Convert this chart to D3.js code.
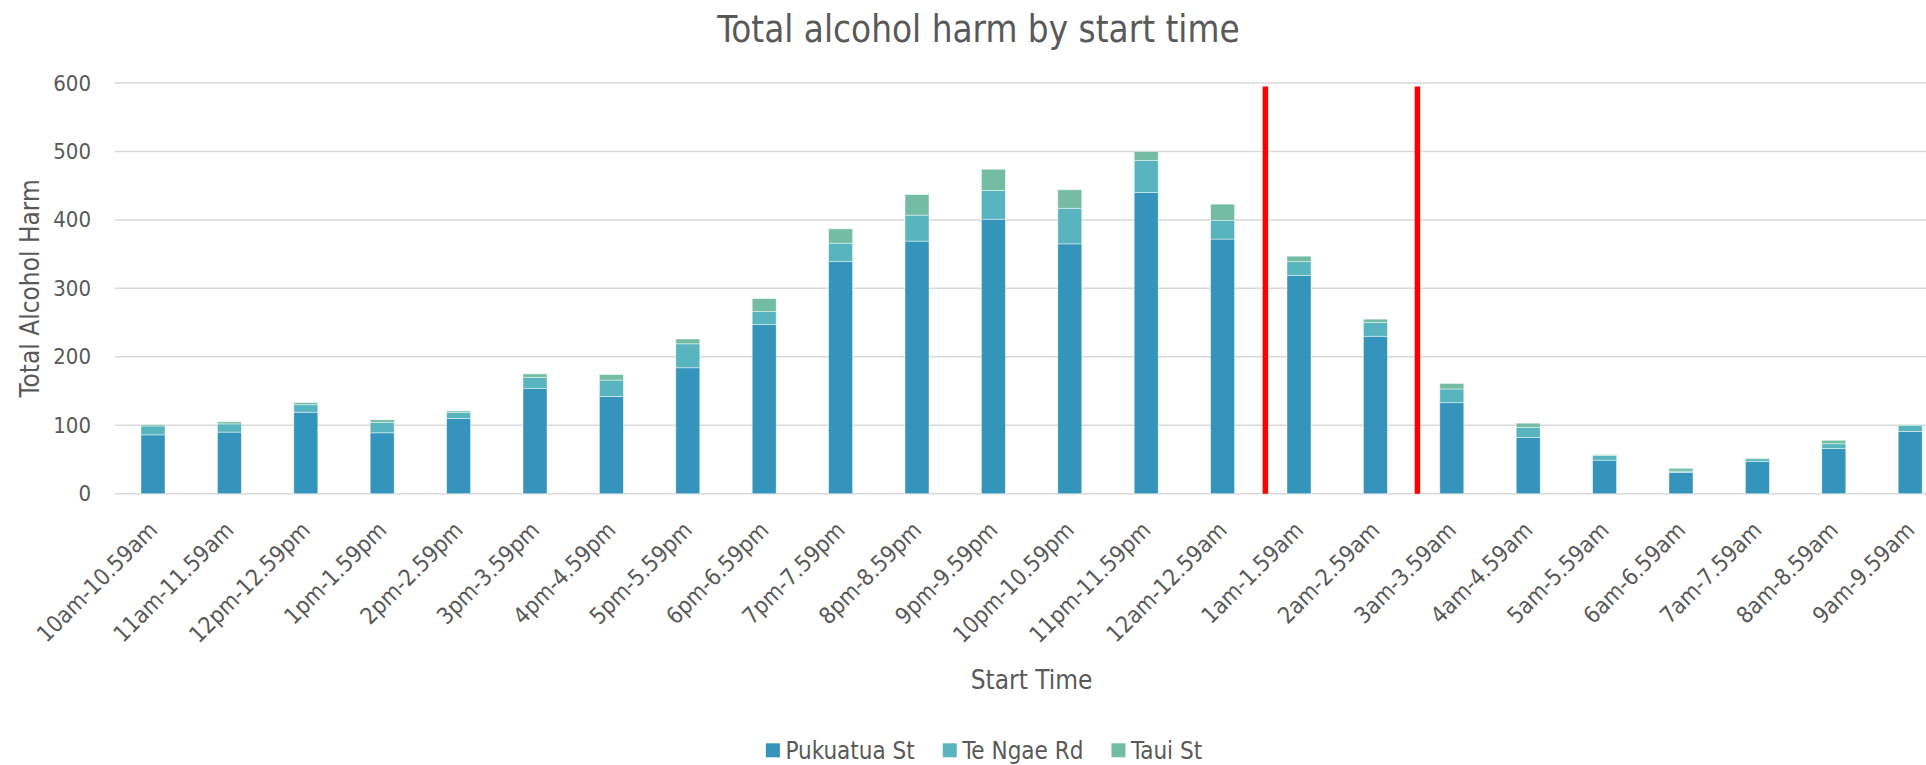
<!DOCTYPE html>
<html>
<head>
<meta charset="utf-8">
<script src="https://cdn.jsdelivr.net/npm/d3@7"></script>
<style>
  html, body { margin: 0; padding: 0; background: #ffffff; }
  svg { display: block; }
  text { font-family: "DejaVu Sans Condensed", "DejaVu Sans", sans-serif; font-stretch: condensed; fill: #595959; }
</style>
</head>
<body>
<svg id="chart" width="1926" height="765"></svg>
<script>
// Hourly start-time bands
const categories = [
  "10am-10.59am", "11am-11.59am", "12pm-12.59pm", "1pm-1.59pm", "2pm-2.59pm",
  "3pm-3.59pm", "4pm-4.59pm", "5pm-5.59pm", "6pm-6.59pm", "7pm-7.59pm",
  "8pm-8.59pm", "9pm-9.59pm", "10pm-10.59pm", "11pm-11.59pm", "12am-12.59am",
  "1am-1.59am", "2am-2.59am", "3am-3.59am", "4am-4.59am", "5am-5.59am",
  "6am-6.59am", "7am-7.59am", "8am-8.59am", "9am-9.59am"
];

// Harm counts per street
const pukuatuaSt = [86, 90, 119, 89, 110, 154, 142, 184, 247, 339, 369, 401, 365, 440, 372, 319, 230, 133, 82, 49, 31, 47, 66, 91];
const teNgaeRd   = [13, 12, 11, 15, 9, 16, 24, 35, 19, 27, 38, 42, 52, 47, 27, 20, 20, 20, 15, 7, 2, 4, 7, 9];
const tauiSt     = [2, 3, 3, 4, 2, 5, 8, 7, 19, 21, 30, 31, 27, 13, 24, 8, 5, 8, 6, 1, 4, 1, 5, 1];

const seriesNames = ["Pukuatua St", "Te Ngae Rd", "Taui St"];
const seriesColors = ["#3594bb", "#58b5bf", "#74bda4"];

const yTicks = [0, 100, 200, 300, 400, 500, 600];

// Red divider lines, positioned in category units along the axis, with their top value
const dividerPositions = [15.06, 17.05];
const dividerTop = 595;

const svg = d3.select("#chart");

const plot = { left: 114.8, right: 1948.4, top: 83, bottom: 493.7 };

const x = d3.scaleBand()
  .domain(categories)
  .range([plot.left, plot.right])
  .paddingInner(0.686)
  .paddingOuter(0.343);

const y = d3.scaleLinear()
  .domain([0, 600])
  .range([plot.bottom, plot.top]);

const xUnits = d3.scaleLinear()
  .domain([0, categories.length])
  .range([plot.left, plot.right]);

// Gridlines
svg.append("g")
  .selectAll("line")
  .data(yTicks)
  .join("line")
  .attr("x1", plot.left)
  .attr("x2", plot.right)
  .attr("y1", d => y(d))
  .attr("y2", d => y(d))
  .attr("stroke", "#d9d9d9")
  .attr("stroke-width", 1.5);

// Y axis labels
const yAxis = d3.axisLeft(y).tickValues(yTicks).tickSize(0).tickPadding(0);
svg.append("g")
  .attr("transform", "translate(91,0)")
  .call(yAxis)
  .call(g => g.select(".domain").remove())
  .call(g => g.selectAll("text")
    .attr("font-size", 22)
    .attr("font-family", null)
    .attr("fill", "#595959"));

// Stacked bars
const table = categories.map((c, i) => ({
  category: c,
  "Pukuatua St": pukuatuaSt[i],
  "Te Ngae Rd": teNgaeRd[i],
  "Taui St": tauiSt[i]
}));
const stacked = d3.stack().keys(seriesNames)(table);

svg.append("g")
  .selectAll("g")
  .data(stacked)
  .join("g")
  .attr("fill", (d, i) => seriesColors[i])
  .selectAll("rect")
  .data(d => d)
  .join("rect")
  .attr("x", d => x(d.data.category))
  .attr("width", x.bandwidth())
  .attr("y", d => y(d[1]))
  .attr("height", d => y(d[0]) - y(d[1]))
  .attr("stroke", "#ffffff")
  .attr("stroke-opacity", 0.55)
  .attr("stroke-width", 0.8);

// Red dividers
svg.append("g")
  .selectAll("line")
  .data(dividerPositions)
  .join("line")
  .attr("x1", d => xUnits(d))
  .attr("x2", d => xUnits(d))
  .attr("y1", y(dividerTop))
  .attr("y2", y(0))
  .attr("stroke", "#ff0000")
  .attr("stroke-width", 5.5);

// X axis labels, rotated
const xAxis = d3.axisBottom(x).tickSize(0).tickPadding(0);
svg.append("g")
  .attr("transform", `translate(0,${plot.bottom + 32})`)
  .call(xAxis)
  .call(g => g.select(".domain").remove())
  .call(g => g.selectAll("text")
    .attr("font-size", 23)
    .attr("font-family", null)
    .attr("fill", "#595959")
    .attr("text-anchor", "end")
    .attr("y", 0)
    .attr("dy", "0.35em")
    .attr("transform", "rotate(-45)"));

// Title
svg.append("text")
  .attr("x", 978.5)
  .attr("y", 42)
  .attr("text-anchor", "middle")
  .attr("font-size", 36.5)
  .text("Total alcohol harm by start time");

// Axis titles
svg.append("text")
  .attr("x", (plot.left + plot.right) / 2)
  .attr("y", 689)
  .attr("text-anchor", "middle")
  .attr("font-size", 26)
  .text("Start Time");

svg.append("text")
  .attr("transform", `translate(39,${(plot.top + plot.bottom) / 2}) rotate(-90)`)
  .attr("text-anchor", "middle")
  .attr("font-size", 26)
  .text("Total Alcohol Harm");

// Legend
const legend = svg.append("g");
const items = legend.selectAll("g")
  .data(seriesNames)
  .join("g");
items.append("rect")
  .attr("width", 14)
  .attr("height", 14)
  .attr("y", 743.3)
  .attr("fill", (d, i) => seriesColors[i]);
items.append("text")
  .attr("x", 19.5)
  .attr("y", 759)
  .attr("font-size", 24)
  .text(d => d);

const widths = [];
items.each(function () {
  const w = d3.select(this).select("text").node().getComputedTextLength();
  widths.push(19.5 + w);
});
const totalWidth = d3.sum(widths) + 28 * (widths.length - 1);
let cursor = 984 - totalWidth / 2;
items.attr("transform", (d, i) => {
  const t = `translate(${cursor},0)`;
  cursor += widths[i] + 28;
  return t;
});
</script>
</body>
</html>
